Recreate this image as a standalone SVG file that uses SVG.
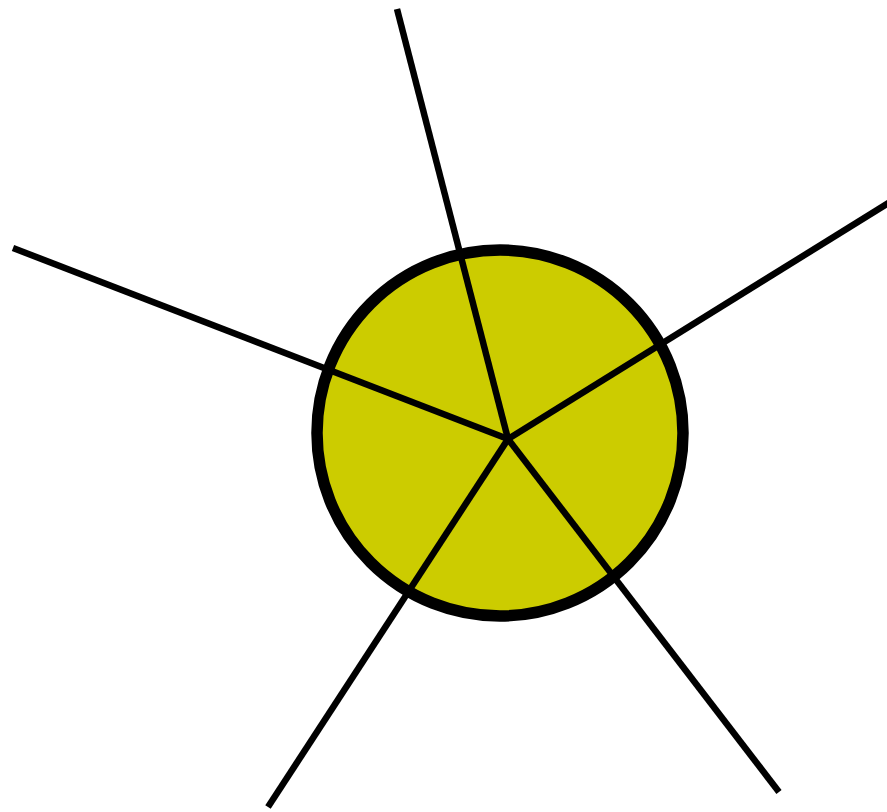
<svg xmlns="http://www.w3.org/2000/svg" width="887" height="812" viewBox="0 0 887 812">
<style>
.ray{stroke:#000;stroke-width:6.5;fill:none;stroke-linecap:butt}
</style>
<rect width="887" height="812" fill="#fff"/>
<g id="hub">
<circle cx="500" cy="433" r="183" fill="#cccc00" stroke="#000" stroke-width="11.5"/>
</g>
<g id="connectors">
<line class="ray" x1="508" y1="439" x2="397" y2="9"/>
<line class="ray" x1="508" y1="439" x2="13" y2="248"/>
<line class="ray" x1="508" y1="439" x2="890" y2="202"/>
<line class="ray" x1="508" y1="439" x2="268" y2="807"/>
<line class="ray" x1="508" y1="439" x2="779" y2="792"/>
</g>
</svg>
